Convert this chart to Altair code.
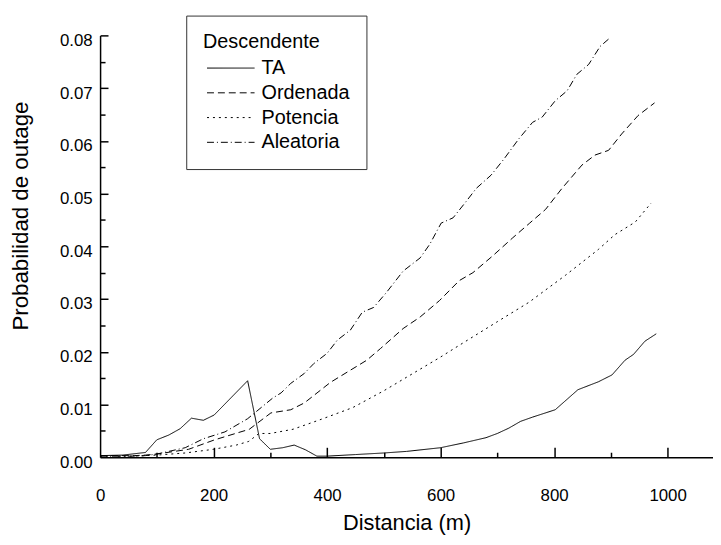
import altair as alt
import pandas as pd

# ---- data ----
series_names = ["TA", "Ordenada", "Potencia", "Aleatoria"]

ta_d = [0, 40, 80, 100, 121, 141, 161, 182, 201, 260, 281, 300, 322, 342, 362, 382,
        400, 450, 500, 540, 600, 640, 680, 700, 720, 741, 762, 802, 842, 878, 902,
        925, 940, 960, 980]
ta_p = [0.0003, 0.0004, 0.0009, 0.0033, 0.0042, 0.0054, 0.0074, 0.0070, 0.0080,
        0.0145, 0.0035, 0.0015, 0.0018, 0.0023, 0.0014, 0.0002, 0.0002, 0.0005,
        0.0008, 0.0011, 0.0018, 0.0027, 0.0037, 0.0045, 0.0055, 0.0068, 0.0076,
        0.0090, 0.0128, 0.0143, 0.0156, 0.0184, 0.0195, 0.0220, 0.0234]

ord_d = [0, 60, 80, 100, 156, 202, 263, 301, 336, 360, 406, 441, 470, 494, 534,
         564, 598, 633, 657, 692, 727, 757, 785, 814, 849, 872, 896, 919, 948, 977]
ord_p = [0.0003, 0.0003, 0.0004, 0.0006, 0.0015, 0.0033, 0.0053, 0.0084, 0.0090,
         0.0103, 0.0142, 0.0165, 0.0184, 0.0206, 0.0244, 0.0266, 0.0297, 0.0335,
         0.0350, 0.0382, 0.0416, 0.0444, 0.0470, 0.0510, 0.0554, 0.0573, 0.0582,
         0.0613, 0.0648, 0.0672]

pot_d = [0, 60, 100, 150, 200, 240, 262, 280, 300, 340, 390, 445, 500, 550, 600,
         640, 700, 756, 776, 820, 878, 907, 943, 971]
pot_p = [0.0002, 0.0002, 0.0004, 0.0008, 0.0015, 0.0023, 0.0030, 0.0045, 0.0045,
         0.0053, 0.0072, 0.0094, 0.0126, 0.0158, 0.0190, 0.0217, 0.0257, 0.0294,
         0.0310, 0.0345, 0.0394, 0.0422, 0.0446, 0.0482]

ale_d = [0, 60, 80, 100, 150, 182, 220, 260, 304, 319, 336, 360, 377, 400, 418,
         441, 462, 482, 505, 534, 564, 581, 601, 622, 645, 663, 689, 712, 738, 762,
         779, 802, 823, 840, 861, 881, 896]
ale_p = [0.0002, 0.0002, 0.0003, 0.0006, 0.0018, 0.0035, 0.0048, 0.0073, 0.0112,
         0.0122, 0.0140, 0.0159, 0.0178, 0.0197, 0.0222, 0.0241, 0.0275, 0.0284,
         0.0313, 0.0353, 0.0378, 0.0404, 0.0444, 0.0454, 0.0485, 0.0510, 0.0535,
         0.0566, 0.0604, 0.0635, 0.0645, 0.0676, 0.0695, 0.0726, 0.0745, 0.0779,
         0.0793]

x_major = [200, 400, 600, 800, 1000]
x_minor = [100, 300, 500, 700, 900]
x_labels = [0, 200, 400, 600, 800, 1000]
y_major = [0.01, 0.02, 0.03, 0.04, 0.05, 0.06, 0.07, 0.08]
y_minor = [0.005, 0.015, 0.025, 0.035, 0.045, 0.055, 0.065, 0.075]
y_labels = [0.0, 0.01, 0.02, 0.03, 0.04, 0.05, 0.06, 0.07, 0.08]

rows = []
for name, ds, ps in [("TA", ta_d, ta_p), ("Ordenada", ord_d, ord_p),
                     ("Potencia", pot_d, pot_p), ("Aleatoria", ale_d, ale_p)]:
    for i, (d, p) in enumerate(zip(ds, ps)):
        rows.append({"serie": name, "d": d, "p": p, "i": i})
df = pd.DataFrame(rows)

W, H = 619, 426
FONT = "Liberation Sans"

xscale = alt.Scale(domain=[0, 1080], nice=False, zero=False)
yscale = alt.Scale(domain=[0, 0.08], nice=False, zero=False)

base = alt.Chart(df)

lines = base.mark_line(color="black", strokeWidth=1).encode(
    x=alt.X("d:Q", scale=xscale, axis=alt.Axis(
        orient="bottom", title="Distancia (m)", values=x_labels, format="d",
        ticks=False, tickSize=0, labelPadding=31, labelFontSize=17,
        titleFontSize=22, titleFontWeight="normal", titlePadding=9,
        domainColor="black", domainWidth=1.5, grid=False, labelFont=FONT,
        titleFont=FONT, labelColor="black", titleColor="black", labelFlush=False)),
    y=alt.Y("p:Q", scale=yscale, axis=alt.Axis(
        orient="left", title="Probabilidad de outage", values=y_labels, format=".2f",
        ticks=False, tickSize=0, labelPadding=8, labelFontSize=17, labelOffset=5,
        titleFontSize=22.5, titleFontWeight="normal", titlePadding=27, titleY=182,
        domainColor="black", domainWidth=1.5, grid=False, labelFont=FONT,
        titleFont=FONT, labelColor="black", titleColor="black", labelFlush=False)),
    strokeDash=alt.StrokeDash("serie:N", scale=alt.Scale(
        domain=series_names, range=[[1, 0], [7, 4], [2, 4], [7, 3, 1, 3]]),
        legend=alt.Legend(
            title="Descendente", orient="none", legendX=87, legendY=-20,
            symbolType="M-4,0H4", symbolSize=144, symbolStrokeWidth=1,
            symbolStrokeColor="black", symbolOffset=18, labelOffset=21,
            labelFontSize=20, titleFontSize=20, titleFontWeight="normal",
            labelFont=FONT, titleFont=FONT, labelColor="black", titleColor="black",
            strokeColor="#333", padding=17, rowPadding=5, titlePadding=6,
            fillColor="white", labelLimit=300)),
    order="i:Q",
)

def tick_layer(xvals, yvals, xsize, ysize):
    return base.mark_point(opacity=0, size=1).encode(
        x=alt.X("d:Q", scale=xscale, axis=alt.Axis(
            orient="top", offset=-H, values=xvals, labels=False, domain=False,
            ticks=True, tickSize=xsize, tickColor="black", tickWidth=1.5,
            title=None, grid=False)),
        y=alt.Y("p:Q", scale=yscale, axis=alt.Axis(
            orient="right", offset=-W, values=yvals, labels=False, domain=False,
            ticks=True, tickSize=ysize, tickColor="black", tickWidth=1.5,
            title=None, grid=False)),
    )

major = tick_layer(x_major, y_major, 10, 8)
minor = tick_layer(x_minor, y_minor, 5, 5)

chart = alt.layer(lines, major, minor).resolve_axis(
    x="independent", y="independent"
).properties(
    width=W, height=H,
    background="white",
    autosize=alt.AutoSizeParams(type="none"),
    padding={"left": 93, "top": 25, "right": 0, "bottom": 85},
).configure_view(
    strokeWidth=0, stroke="transparent"
).configure_axis(
    grid=False
)

chart.save("out.html", embed_options={"renderer": "svg", "actions": False})
